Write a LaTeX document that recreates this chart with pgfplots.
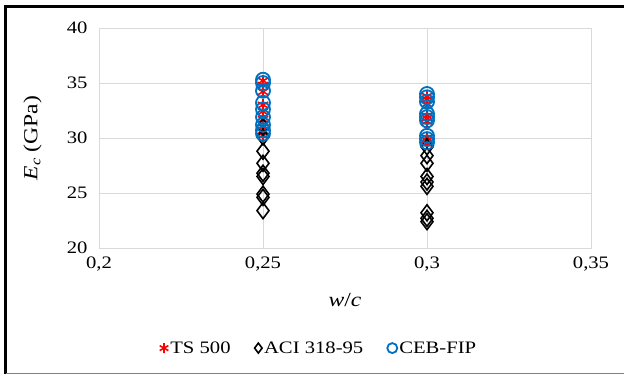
\documentclass[border=0pt]{standalone}
\usepackage{pgfplots}
\pgfplotsset{compat=1.18}
\usepackage{fontspec}
\setmainfont{Liberation Serif}[FakeStretch=1.18]
\definecolor{cebblue}{RGB}{0,112,192}
\definecolor{gridgray}{RGB}{217,217,217}
\begin{document}
\begin{tikzpicture}[font=\fontsize{17.5bp}{21bp}\selectfont]
\useasboundingbox (0bp,0bp) rectangle (624bp,374bp);
\fill[white] (0bp,0bp) rectangle (624bp,374bp);
\draw[line width=3bp,black] (5.5bp,0bp) -- (5.5bp,367.5bp) -- (624bp,367.5bp);
\draw[line width=1bp,gray] (5.5bp,1bp) -- (624bp,1bp);
\begin{axis}[
  at={(99bp,126bp)}, anchor=south west,
  scale only axis, width=492bp, height=220bp,
  xmin=0.2, xmax=0.35, ymin=20, ymax=40,
  xtick={0.2,0.25,0.3,0.35},
  xticklabels={{0,2},{0,25},{0,3},{0,35}},
  ytick={20,25,30,35,40},
  /pgf/number format/assume math mode=true,
  yticklabel style={xshift=-8bp},
  xticklabel style={yshift=-5bp},
  grid=major,
  major grid style={gridgray, line width=0.8bp},
  axis line style={gridgray, line width=0.8bp},
  tick style={draw=none},
  xlabel={\textit{w}/\textit{c}},
  ylabel={\textit{E}\textsubscript{\textit{c}} (GPa)},
  label style={font=\fontsize{20bp}{24bp}\selectfont},
  xlabel style={at={(axis description cs:0.5,-0.235)}, anchor=center},
  ylabel style={at={(axis description cs:-0.135,0.5)}, anchor=center},
  legend columns=3,
  legend style={draw=none, fill=none, at={(axis description cs:0.447,-0.455)}, anchor=center,
    /tikz/every even column/.append style={column sep=22bp}},
  legend cell align=left,
  legend image post style={mark size=5bp},
]
\addplot[only marks, mark=asterisk, mark size=6bp, draw=red, line width=1.6bp] coordinates {
(0.25,35.2)(0.25,34.8)(0.25,34.2)(0.25,33.0)(0.25,32.4)(0.25,31.7)(0.25,31.0)(0.25,30.6)(0.25,30.2)
(0.3,33.8)(0.3,33.5)(0.3,33.1)(0.3,32.0)(0.3,31.8)(0.3,31.5)(0.3,30.0)(0.3,29.8)(0.3,29.5)
};
\addlegendentry{TS 500}
\addplot[only marks, mark=diamond, mark size=8bp, draw=black, line width=1.6bp] coordinates {
(0.25,31.0)(0.25,30.1)(0.25,28.8)(0.25,27.7)(0.25,26.8)(0.25,26.5)(0.25,24.9)(0.25,24.6)(0.25,23.4)
(0.3,29.2)(0.3,28.4)(0.3,27.7)(0.3,26.5)(0.3,26.0)(0.3,25.6)(0.3,23.2)(0.3,22.7)(0.3,22.4)
};
\addlegendentry{ACI 318-95}
\addplot[only marks, mark=o, mark size=7bp, draw=cebblue, line width=1.8bp] coordinates {
(0.25,35.3)(0.25,35.0)(0.25,34.3)(0.25,33.2)(0.25,32.6)(0.25,31.9)(0.25,31.2)(0.25,30.7)(0.25,30.4)
(0.3,34.0)(0.3,33.7)(0.3,33.3)(0.3,32.2)(0.3,31.9)(0.3,31.6)(0.3,30.2)(0.3,29.9)(0.3,29.6)
};
\addlegendentry{CEB-FIP}
\end{axis}
\end{tikzpicture}
\end{document}
